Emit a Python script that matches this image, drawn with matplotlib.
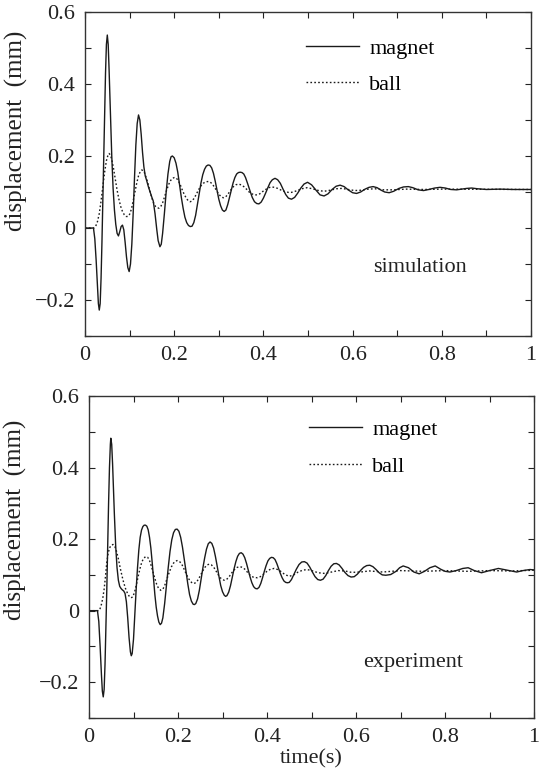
import matplotlib
matplotlib.use("Agg")
import matplotlib.pyplot as plt
from matplotlib.ticker import MultipleLocator

# ---------------- data: (time s, displacement mm) ----------------
sim_magnet = [
    (0.0, 0.0), (0.019, 0.0), (0.022, -0.03), (0.025, -0.09), (0.028, -0.16), (0.030, -0.21),
    (0.032, -0.228), (0.034, -0.21), (0.036, -0.14), (0.038, -0.04), (0.040, 0.08), (0.042, 0.20),
    (0.044, 0.32), (0.046, 0.43), (0.048, 0.51), (0.050, 0.536), (0.052, 0.51), (0.054, 0.44),
    (0.056, 0.36), (0.058, 0.28), (0.060, 0.20), (0.063, 0.11), (0.066, 0.05), (0.069, 0.01),
    (0.072, -0.015), (0.075, -0.022), (0.078, -0.01), (0.081, 0.004), (0.084, 0.008), (0.087, -0.005),
    (0.090, -0.04), (0.093, -0.08), (0.096, -0.11), (0.099, -0.121), (0.102, -0.10), (0.105, -0.045),
    (0.108, 0.04), (0.111, 0.14), (0.114, 0.23), (0.117, 0.29), (0.120, 0.314), (0.123, 0.30),
    (0.126, 0.26), (0.129, 0.21), (0.132, 0.17), (0.135, 0.145), (0.138, 0.133), (0.142, 0.115),
    (0.146, 0.10), (0.150, 0.085), (0.153, 0.075), (0.157, 0.04), (0.161, -0.005), (0.164, -0.035),
    (0.168, -0.052), (0.171, -0.045), (0.174, -0.015), (0.178, 0.04), (0.182, 0.10), (0.186, 0.15),
    (0.190, 0.185), (0.193, 0.198), (0.196, 0.20), (0.200, 0.195), (0.204, 0.18), (0.208, 0.155),
    (0.212, 0.12), (0.216, 0.085), (0.220, 0.055), (0.224, 0.03), (0.228, 0.015), (0.232, 0.007),
    (0.236, 0.004), (0.240, 0.005), (0.244, 0.015), (0.248, 0.035), (0.252, 0.065), (0.256, 0.095),
    (0.260, 0.125), (0.264, 0.148), (0.268, 0.163), (0.272, 0.172), (0.276, 0.175), (0.280, 0.174),
    (0.284, 0.167), (0.288, 0.152), (0.292, 0.13), (0.296, 0.105), (0.300, 0.08), (0.304, 0.062),
    (0.308, 0.05), (0.312, 0.046), (0.316, 0.05), (0.320, 0.065), (0.324, 0.085), (0.328, 0.105),
    (0.332, 0.125), (0.336, 0.14), (0.340, 0.15), (0.344, 0.154), (0.348, 0.155), (0.352, 0.154),
    (0.356, 0.15), (0.360, 0.14), (0.365, 0.122), (0.370, 0.103), (0.375, 0.085), (0.380, 0.073),
    (0.385, 0.068), (0.390, 0.067), (0.395, 0.072), (0.400, 0.083), (0.405, 0.097), (0.410, 0.112),
    (0.415, 0.126), (0.420, 0.134), (0.426, 0.138), (0.432, 0.134), (0.438, 0.124), (0.444, 0.108),
    (0.450, 0.093), (0.456, 0.083), (0.463, 0.080), (0.470, 0.085), (0.477, 0.097), (0.484, 0.111),
    (0.491, 0.122), (0.499, 0.127), (0.508, 0.12), (0.518, 0.105), (0.527, 0.092), (0.536, 0.089),
    (0.545, 0.095), (0.554, 0.107), (0.563, 0.116), (0.572, 0.119), (0.581, 0.115), (0.590, 0.106),
    (0.600, 0.098), (0.609, 0.096), (0.618, 0.10), (0.628, 0.108), (0.637, 0.113), (0.646, 0.115),
    (0.655, 0.112), (0.664, 0.105), (0.672, 0.10), (0.682, 0.098), (0.692, 0.102), (0.704, 0.11),
    (0.714, 0.114), (0.725, 0.115), (0.735, 0.112), (0.747, 0.106), (0.759, 0.104), (0.771, 0.107),
    (0.784, 0.111), (0.796, 0.113), (0.808, 0.111), (0.820, 0.107), (0.833, 0.106), (0.845, 0.108),
    (0.856, 0.11), (0.867, 0.111), (0.880, 0.109), (0.900, 0.107), (0.930, 0.108), (0.960, 0.107),
    (1.0, 0.107),
]

sim_ball = [
    (0.0, 0.0), (0.020, 0.0), (0.024, 0.005), (0.028, 0.018), (0.032, 0.04), (0.036, 0.075),
    (0.040, 0.115), (0.044, 0.155), (0.048, 0.187), (0.051, 0.20), (0.054, 0.207), (0.057, 0.203),
    (0.060, 0.19), (0.064, 0.165), (0.068, 0.135), (0.072, 0.105), (0.076, 0.08), (0.080, 0.06),
    (0.084, 0.046), (0.088, 0.037), (0.092, 0.032), (0.096, 0.032), (0.100, 0.038), (0.104, 0.052),
    (0.108, 0.075), (0.112, 0.10), (0.116, 0.125), (0.120, 0.145), (0.124, 0.157), (0.127, 0.161),
    (0.130, 0.16), (0.134, 0.152), (0.138, 0.137), (0.142, 0.12), (0.146, 0.10), (0.150, 0.083),
    (0.154, 0.069), (0.158, 0.06), (0.162, 0.056), (0.166, 0.055), (0.170, 0.06), (0.174, 0.07),
    (0.178, 0.085), (0.183, 0.105), (0.188, 0.122), (0.192, 0.132), (0.196, 0.138), (0.200, 0.14),
    (0.204, 0.139), (0.208, 0.134), (0.213, 0.122), (0.218, 0.106), (0.223, 0.092), (0.228, 0.081),
    (0.232, 0.075), (0.236, 0.073), (0.240, 0.075), (0.245, 0.083), (0.250, 0.095), (0.255, 0.107),
    (0.260, 0.117), (0.265, 0.124), (0.270, 0.128), (0.275, 0.129), (0.280, 0.128), (0.285, 0.123),
    (0.290, 0.114), (0.295, 0.104), (0.300, 0.094), (0.305, 0.087), (0.310, 0.084), (0.315, 0.086),
    (0.320, 0.093), (0.326, 0.104), (0.332, 0.114), (0.338, 0.12), (0.344, 0.122), (0.350, 0.12),
    (0.356, 0.115), (0.362, 0.108), (0.368, 0.10), (0.374, 0.095), (0.380, 0.092), (0.386, 0.092),
    (0.392, 0.095), (0.398, 0.101), (0.405, 0.107), (0.412, 0.112), (0.418, 0.114), (0.425, 0.113),
    (0.432, 0.11), (0.440, 0.105), (0.448, 0.101), (0.456, 0.099), (0.463, 0.099), (0.474, 0.103),
    (0.486, 0.109), (0.498, 0.112), (0.510, 0.109), (0.524, 0.104), (0.536, 0.102), (0.550, 0.105),
    (0.564, 0.109), (0.576, 0.11), (0.590, 0.107), (0.605, 0.104), (0.620, 0.105), (0.635, 0.108),
    (0.650, 0.109), (0.670, 0.106), (0.690, 0.106), (0.720, 0.108), (0.760, 0.107), (0.800, 0.108),
    (1.0, 0.107),
]

exp_magnet = [
    (0.0, 0.0), (0.019, 0.0), (0.022, -0.03), (0.025, -0.10), (0.028, -0.18), (0.030, -0.225),
    (0.032, -0.241), (0.034, -0.22), (0.036, -0.15), (0.038, -0.05), (0.040, 0.06), (0.042, 0.18),
    (0.044, 0.30), (0.046, 0.40), (0.048, 0.465), (0.049, 0.482), (0.051, 0.465), (0.053, 0.41),
    (0.055, 0.34), (0.057, 0.27), (0.060, 0.18), (0.063, 0.12), (0.066, 0.085), (0.069, 0.068),
    (0.072, 0.062), (0.075, 0.058), (0.078, 0.055), (0.081, 0.048), (0.084, 0.025), (0.087, -0.02),
    (0.090, -0.075), (0.093, -0.115), (0.095, -0.126), (0.097, -0.12), (0.100, -0.08), (0.103, -0.01),
    (0.106, 0.06), (0.109, 0.12), (0.112, 0.17), (0.115, 0.205), (0.118, 0.225), (0.121, 0.235),
    (0.124, 0.239), (0.127, 0.239), (0.130, 0.236), (0.133, 0.226), (0.136, 0.205), (0.139, 0.175),
    (0.142, 0.135), (0.145, 0.09), (0.148, 0.045), (0.151, 0.01), (0.154, -0.015), (0.157, -0.032),
    (0.160, -0.039), (0.163, -0.035), (0.166, -0.02), (0.170, 0.02), (0.174, 0.07), (0.178, 0.12),
    (0.182, 0.165), (0.186, 0.198), (0.190, 0.218), (0.194, 0.227), (0.198, 0.228), (0.202, 0.222),
    (0.206, 0.205), (0.210, 0.178), (0.214, 0.145), (0.218, 0.11), (0.222, 0.075), (0.226, 0.045),
    (0.230, 0.027), (0.234, 0.018), (0.237, 0.017), (0.240, 0.02), (0.244, 0.033), (0.248, 0.057),
    (0.252, 0.088), (0.256, 0.12), (0.260, 0.148), (0.264, 0.172), (0.268, 0.187), (0.272, 0.192),
    (0.276, 0.188), (0.280, 0.175), (0.284, 0.152), (0.288, 0.125), (0.292, 0.096), (0.296, 0.07),
    (0.300, 0.053), (0.304, 0.043), (0.307, 0.04), (0.310, 0.042), (0.314, 0.052), (0.318, 0.07),
    (0.322, 0.093), (0.326, 0.117), (0.330, 0.137), (0.334, 0.152), (0.338, 0.16), (0.342, 0.162),
    (0.346, 0.158), (0.350, 0.148), (0.354, 0.132), (0.358, 0.113), (0.362, 0.094), (0.366, 0.078),
    (0.370, 0.067), (0.374, 0.062), (0.378, 0.061), (0.382, 0.065), (0.386, 0.076), (0.390, 0.092),
    (0.394, 0.11), (0.398, 0.126), (0.402, 0.139), (0.406, 0.146), (0.410, 0.149), (0.414, 0.148),
    (0.418, 0.143), (0.422, 0.132), (0.426, 0.118), (0.430, 0.104), (0.434, 0.092), (0.438, 0.083),
    (0.442, 0.079), (0.446, 0.078), (0.450, 0.079), (0.455, 0.087), (0.460, 0.10), (0.466, 0.116),
    (0.472, 0.129), (0.478, 0.136), (0.484, 0.137), (0.490, 0.133), (0.496, 0.122), (0.502, 0.108),
    (0.508, 0.095), (0.514, 0.087), (0.520, 0.085), (0.526, 0.088), (0.532, 0.098), (0.538, 0.112),
    (0.544, 0.124), (0.550, 0.131), (0.556, 0.132), (0.562, 0.128), (0.568, 0.119), (0.575, 0.107),
    (0.582, 0.098), (0.589, 0.094), (0.596, 0.095), (0.603, 0.102), (0.610, 0.112), (0.617, 0.121),
    (0.624, 0.126), (0.631, 0.127), (0.638, 0.123), (0.645, 0.115), (0.652, 0.106), (0.659, 0.10),
    (0.667, 0.099), (0.678, 0.101), (0.690, 0.11), (0.698, 0.12), (0.706, 0.125), (0.718, 0.12),
    (0.730, 0.108), (0.742, 0.103), (0.754, 0.11), (0.766, 0.12), (0.778, 0.125), (0.790, 0.116),
    (0.800, 0.11), (0.811, 0.108), (0.825, 0.112), (0.840, 0.118), (0.852, 0.12), (0.866, 0.112),
    (0.882, 0.106), (0.900, 0.112), (0.920, 0.118), (0.940, 0.113), (0.961, 0.108), (0.975, 0.112),
    (0.991, 0.115), (1.0, 0.114),
]

exp_ball = [
    (0.0, 0.0), (0.022, 0.0), (0.025, 0.006), (0.028, 0.018), (0.031, 0.035), (0.034, 0.06),
    (0.037, 0.095), (0.040, 0.135), (0.043, 0.16), (0.046, 0.175), (0.050, 0.183), (0.054, 0.185),
    (0.058, 0.18), (0.062, 0.165), (0.066, 0.145), (0.070, 0.12), (0.074, 0.098), (0.078, 0.078),
    (0.082, 0.062), (0.086, 0.05), (0.090, 0.041), (0.094, 0.036), (0.098, 0.038), (0.102, 0.05),
    (0.106, 0.07), (0.110, 0.093), (0.114, 0.115), (0.118, 0.133), (0.122, 0.145), (0.127, 0.151),
    (0.132, 0.149), (0.136, 0.14), (0.140, 0.125), (0.144, 0.107), (0.148, 0.09), (0.152, 0.074),
    (0.156, 0.063), (0.161, 0.057), (0.166, 0.06), (0.170, 0.07), (0.175, 0.088), (0.180, 0.106),
    (0.185, 0.122), (0.190, 0.133), (0.194, 0.138), (0.198, 0.14), (0.203, 0.138), (0.208, 0.131),
    (0.213, 0.118), (0.218, 0.104), (0.223, 0.091), (0.228, 0.082), (0.232, 0.077), (0.236, 0.076),
    (0.241, 0.079), (0.246, 0.088), (0.251, 0.10), (0.256, 0.112), (0.261, 0.122), (0.266, 0.128),
    (0.270, 0.13), (0.275, 0.128), (0.280, 0.122), (0.285, 0.112), (0.290, 0.101), (0.295, 0.092),
    (0.300, 0.087), (0.304, 0.085), (0.309, 0.087), (0.315, 0.095), (0.321, 0.106), (0.327, 0.115),
    (0.333, 0.121), (0.339, 0.123), (0.345, 0.121), (0.351, 0.115), (0.357, 0.106), (0.363, 0.098),
    (0.370, 0.093), (0.378, 0.092), (0.385, 0.095), (0.392, 0.102), (0.400, 0.11), (0.408, 0.116),
    (0.416, 0.118), (0.424, 0.115), (0.432, 0.109), (0.440, 0.101), (0.450, 0.096), (0.460, 0.10),
    (0.470, 0.108), (0.480, 0.113), (0.490, 0.115), (0.500, 0.112), (0.515, 0.106), (0.530, 0.104),
    (0.545, 0.108), (0.560, 0.112), (0.575, 0.111), (0.590, 0.107), (0.610, 0.108), (0.630, 0.111),
    (0.660, 0.108), (0.700, 0.112), (0.750, 0.11), (0.800, 0.112), (0.850, 0.11), (0.900, 0.112),
    (0.950, 0.111), (1.0, 0.113),
]

x_ticks = [0, 0.2, 0.4, 0.6, 0.8, 1.0]
x_ticklabels = ["0", "0.2", "0.4", "0.6", "0.8", "1"]
y_ticks = [-0.2, 0.0, 0.2, 0.4, 0.6]
y_ticklabels = ["\u22120.2", "0", "0.2", "0.4", "0.6"]
series_names = ["magnet", "ball"]
panel_labels = ["simulation", "experiment"]

# ---------------- drawing ----------------
plt.rcParams["font.family"] = ["Liberation Serif", "DejaVu Serif"]

fig = plt.figure(figsize=(5.45, 7.78), dpi=100)
fig.patch.set_facecolor("white")

ax1 = fig.add_axes([85 / 545, 1 - 336 / 778, 446 / 545, 324 / 778])
ax2 = fig.add_axes([89 / 545, 1 - 718 / 778, 445 / 545, 322 / 778])

ink = "#1a1a1a"
dot = (0, (1.2, 1.6))


def split(pairs):
    return [p[0] for p in pairs], [p[1] for p in pairs]


def style(ax, label_x, label_y):
    ax.set_xlim(0, 1)
    ax.set_ylim(-0.3, 0.6)
    ax.set_xticks(x_ticks)
    ax.set_xticklabels(x_ticklabels)
    ax.set_yticks(y_ticks)
    ax.set_yticklabels(y_ticklabels)
    ax.xaxis.set_minor_locator(MultipleLocator(0.1))
    ax.yaxis.set_minor_locator(MultipleLocator(0.1))
    ax.tick_params(which="both", direction="in", top=True, right=True,
                   length=4, width=0.8, labelsize=16, pad=7, colors="#222222")
    for s in ax.spines.values():
        s.set_linewidth(1.0)
        s.set_color("#333333")
    ax.set_ylabel("displacement  (mm)", fontsize=18, color="#222222")
    ax.yaxis.set_label_coords(label_x, label_y)


for ax, mag, ball, lab, lab_xy in (
        (ax1, sim_magnet, sim_ball, panel_labels[0], (0.646, -0.111)),
        (ax2, exp_magnet, exp_ball, panel_labels[1], (0.616, -0.146))):
    t, v = split(mag)
    ax.plot(t, v, color=ink, lw=1.0, label=series_names[0])
    t, v = split(ball)
    ax.plot(t, v, color=ink, lw=1.0, linestyle=dot, label=series_names[1])
    ax.text(lab_xy[0], lab_xy[1], lab, fontsize=16, va="center", ha="left", color="#222222")

style(ax1, -0.128, 0.633)
style(ax2, -0.140, 0.615)
ax2.set_xlabel("time(s)", fontsize=16, labelpad=2, color="#222222")

ax1.legend(loc="upper left", bbox_to_anchor=(0.495, 0.918), frameon=False,
           fontsize=16, handlelength=2.4, handletextpad=0.45, labelspacing=0.68,
           borderpad=0, borderaxespad=0)
ax2.legend(loc="upper left", bbox_to_anchor=(0.494, 0.928), frameon=False,
           fontsize=16, handlelength=2.4, handletextpad=0.45, labelspacing=0.75,
           borderpad=0, borderaxespad=0)

fig.savefig("out.png", dpi=100, facecolor="white")
